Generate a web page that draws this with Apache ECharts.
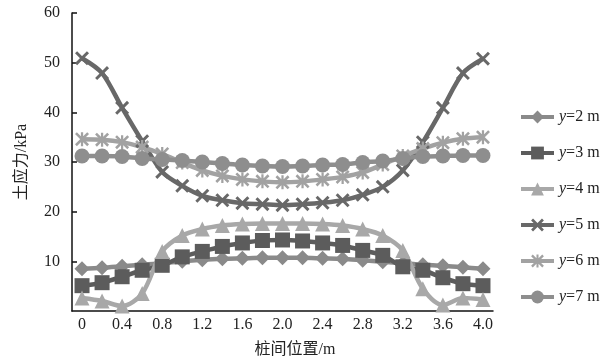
<!DOCTYPE html>
<html>
<head>
<meta charset="utf-8">
<script src="https://cdn.jsdelivr.net/npm/echarts@6/dist/echarts.min.js"></script>
<style>
  html, body { margin: 0; padding: 0; background: #fff; }
  #chart { width: 614px; height: 363px; }
</style>
</head>
<body>
<div id="chart"></div>
<script>
// 桩间位置 (m)
const positions = ['0', '0.2', '0.4', '0.6', '0.8', '1.0', '1.2', '1.4', '1.6', '1.8', '2.0',
  '2.2', '2.4', '2.6', '2.8', '3.0', '3.2', '3.4', '3.6', '3.8', '4.0']

// 土应力 (kPa)
const y2 = [8.5, 8.7, 9.0, 9.3, 9.6, 10.0, 10.3, 10.5, 10.6, 10.7, 10.7, 10.7, 10.6, 10.5, 10.2, 9.9, 9.6, 9.3, 9.1, 8.8, 8.5]
const y3 = [5.1, 5.7, 6.9, 8.2, 9.2, 10.9, 12.0, 13.0, 13.7, 14.2, 14.3, 14.1, 13.7, 13.2, 12.2, 11.2, 8.9, 8.2, 6.7, 5.5, 5.1]
const y4 = [2.6, 2.0, 1.0, 3.5, 12.0, 15.2, 16.5, 17.2, 17.5, 17.6, 17.6, 17.6, 17.5, 17.2, 16.5, 15.2, 12.2, 4.5, 1.2, 2.6, 2.3]
const y5 = [50.9, 47.9, 40.9, 34.2, 28.0, 25.2, 23.2, 22.3, 21.7, 21.5, 21.3, 21.5, 21.8, 22.3, 23.4, 25.0, 28.3, 34.0, 40.9, 47.9, 50.8]
const y6 = [34.6, 34.5, 34.0, 33.0, 31.6, 29.9, 28.3, 27.2, 26.5, 26.1, 25.9, 26.1, 26.5, 27.0, 27.9, 29.5, 31.2, 32.7, 33.9, 34.7, 35.0]
const y7 = [31.2, 31.2, 31.1, 30.7, 30.5, 30.3, 30.0, 29.7, 29.4, 29.2, 29.1, 29.2, 29.4, 29.5, 29.9, 30.2, 30.7, 31.1, 31.2, 31.3, 31.3]

const seriesNames = ['y=2 m', 'y=3 m', 'y=4 m', 'y=5 m', 'y=6 m', 'y=7 m']

// 自定义标记：叉号、星号
const crossPath = 'path://M0,1.5L1.5,0L10,8.5L8.5,10Z M8.5,0L10,1.5L1.5,10L0,8.5Z'
const starPath = 'path://M0,1.3L1.3,0L10,8.7L8.7,10Z M8.7,0L10,1.3L1.3,10L0,8.7Z M4.2,0L5.8,0L5.8,10L4.2,10Z'

const font = '"Liberation Serif", "Noto Sans CJK SC", serif'

const makeSeries = (name, data, color, symbol, size) => ({
  name,
  type: 'line',
  data,
  smooth: 0.3,
  symbol,
  symbolSize: size,
  showAllSymbol: true,
  lineStyle: { color, width: 4.5 },
  itemStyle: { color },
  emphasis: { disabled: true }
})

const chart = echarts.init(document.getElementById('chart'))
chart.setOption({
  animation: false,
  textStyle: { fontFamily: font },
  grid: { left: 72, right: 121, top: 13, bottom: 50 },
  legend: {
    orient: 'vertical',
    left: 519,
    top: 109,
    padding: 0,
    itemWidth: 33,
    itemHeight: 16,
    itemGap: 20,
    data: seriesNames,
    lineStyle: { width: 4 },
    formatter: name => '{i|y}' + name.slice(1),
    textStyle: {
      fontFamily: font,
      fontSize: 16,
      color: '#222',
      rich: {
        i: { fontFamily: font, fontSize: 16, fontStyle: 'italic', color: '#222' }
      }
    }
  },
  xAxis: {
    type: 'category',
    data: positions,
    boundaryGap: true,
    name: '桩间位置/m',
    nameLocation: 'middle',
    nameGap: 31,
    nameTextStyle: { fontFamily: font, fontSize: 16, color: '#222', padding: [0, 0, 0, 25] },
    axisLine: { lineStyle: { color: '#111', width: 1.5 } },
    axisTick: { inside: true, length: 5, interval: 0, lineStyle: { color: '#111', width: 1.5 } },
    axisLabel: { interval: 1, margin: 6, fontSize: 16, color: '#222', fontFamily: font },
    splitLine: { show: false }
  },
  yAxis: {
    type: 'value',
    min: 0,
    max: 60,
    interval: 10,
    name: '土应力/kPa',
    nameLocation: 'middle',
    nameGap: 42,
    nameTextStyle: { fontFamily: font, fontSize: 16, color: '#222' },
    axisLine: { show: true, lineStyle: { color: '#111', width: 1.5 } },
    axisTick: { show: true, inside: true, length: 5, lineStyle: { color: '#111', width: 1.5 } },
    axisLabel: { showMinLabel: false, margin: 12, fontSize: 16, color: '#222', fontFamily: font },
    splitLine: { show: false }
  },
  series: [
    makeSeries(seriesNames[0], y2, '#8a8a8a', 'diamond', 15),
    makeSeries(seriesNames[1], y3, '#5c5c5c', 'rect', 15),
    makeSeries(seriesNames[2], y4, '#a8a8a8', 'triangle', 15),
    makeSeries(seriesNames[3], y5, '#686868', crossPath, 14),
    makeSeries(seriesNames[4], y6, '#a2a2a2', starPath, 14),
    makeSeries(seriesNames[5], y7, '#8e8e8e', 'circle', 15)
  ]
})
</script>
</body>
</html>
